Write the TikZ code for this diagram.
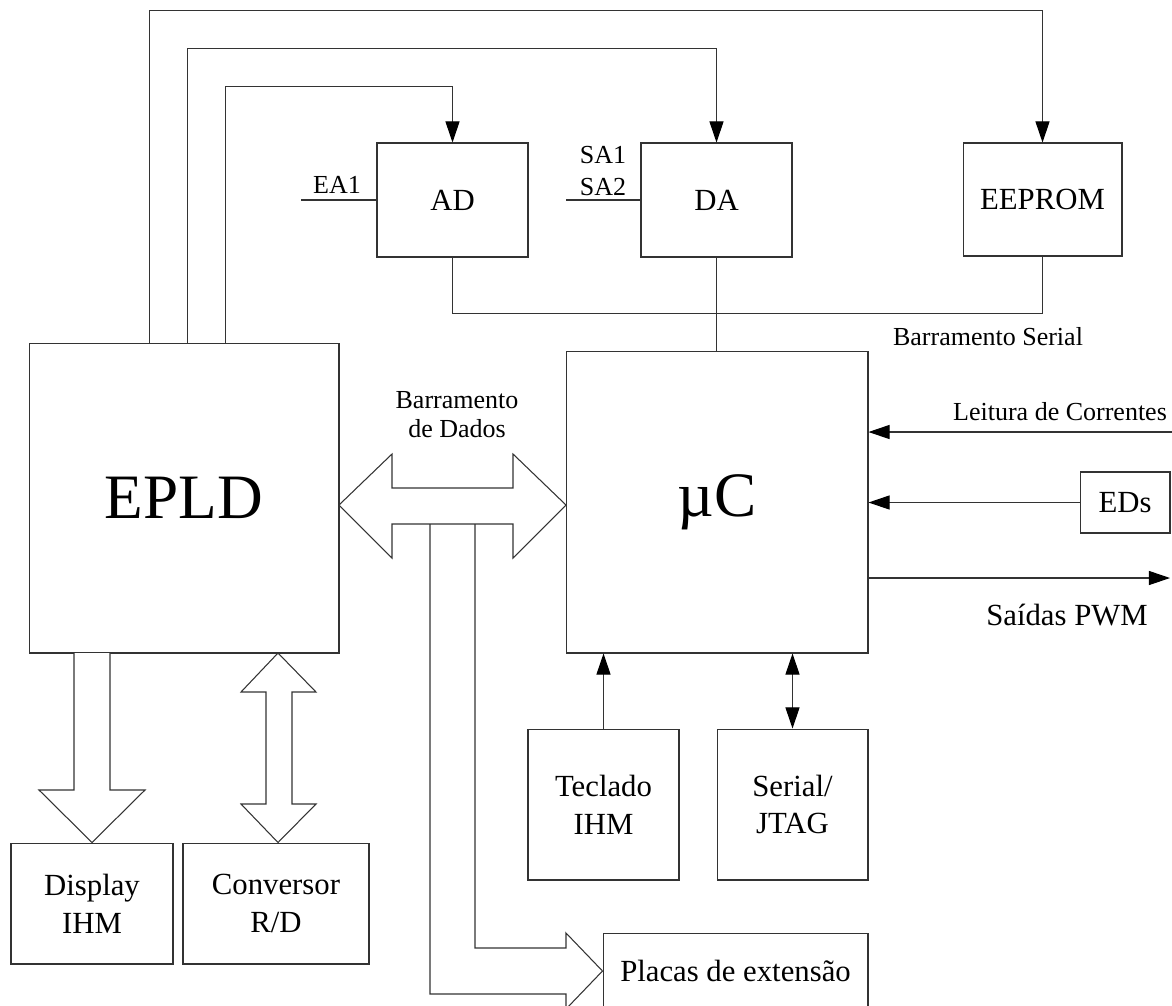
\documentclass[tikz,border=0pt]{standalone}
\usepackage{fontspec}
\setmainfont{Liberation Serif}
\usetikzlibrary{arrows.meta}
\begin{document}
\begin{tikzpicture}[x=0.02cm,y=-0.02cm,
  ln/.style={draw=black!80, line width=0.6pt},
  box/.style={ln, rectangle, inner sep=0pt, align=center, font=\fontsize{17.5}{21.5}\selectfont},
  big/.style={box, font=\fontsize{36}{40}\selectfont},
  lbl/.style={inner sep=0pt, font=\fontsize{14.8}{17.5}\selectfont},
  mlbl/.style={inner sep=0pt, font=\fontsize{17.5}{21.5}\selectfont},
  arr/.style={ln, -{Triangle[length=12pt,width=8pt,black]}},
  darr/.style={ln, {Triangle[length=12pt,width=8pt,black]}-{Triangle[length=12pt,width=8pt,black]}},
  barrow/.style={ln, fill=white, line join=miter}
]
\clip (0,0) rectangle (1172,1005);
\fill[white] (0,0) rectangle (1172,1005);

% boxes
\node[big, minimum width=6.2cm, minimum height=6.2cm] (epld) at (184,498) {EPLD};
\node[big, minimum width=6.04cm, minimum height=6.04cm] (uc) at (717,502) {µC};
\node[box, minimum width=3.02cm, minimum height=2.28cm] (ad) at (452.5,200) {AD};
\node[box, minimum width=3.02cm, minimum height=2.28cm] (da) at (716.5,200) {DA};
\node[box, minimum width=3.18cm, minimum height=2.26cm] (ee) at (1042.5,199.5) {EEPROM};
\node[box, minimum width=1.8cm, minimum height=1.22cm] (eds) at (1125,502.5) {EDs};
\node[box, minimum width=3.02cm, minimum height=3.02cm] (tec) at (603.5,804.5) {Teclado\\IHM};
\node[box, minimum width=3.02cm, minimum height=3.02cm] (ser) at (792.5,804.5) {Serial/\\JTAG};
\node[box, minimum width=3.24cm, minimum height=2.42cm] (disp) at (92,903.5) {Display\\IHM};
\node[box, minimum width=3.72cm, minimum height=2.42cm] (conv) at (276,903.5) {Conversor\\R/D};
\node[box, minimum width=5.3cm, minimum height=1.52cm] (pl) at (735.5,971) {Placas de extensão};

% EPLD to converters / memory
\coordinate (e1) at ([xshift=2.42cm]epld.north west);
\coordinate (e2) at ([xshift=3.18cm]epld.north west);
\coordinate (e3) at ([xshift=3.94cm]epld.north west);
\draw[arr] (e1) -- ++(0,-332) -| (ee.north);
\draw[arr] (e2) -- ++(0,-294) -| (da.north);
\draw[arr] (e3) -- ++(0,-256) -| (ad.north);

% serial bus
\draw[ln] (ad.south) -- ++(0,56) -| (ee.south);
\draw[ln] (da.south) -- (da.south |- uc.north);
\node[lbl, anchor=base] (bs) at (988,345) {Barramento Serial};

% analog in/out
\coordinate (ea) at (301,200);
\draw[ln] (ea) -- (ad.west);
\node[lbl, anchor=base] (ealbl) at (337,193) {EA1};
\coordinate (sa) at (566,200);
\draw[ln] (sa) -- (da.west);
\node[lbl, anchor=base] (sa1) at (603,163) {SA1};
\node[lbl, anchor=base] (sa2) at (603,195) {SA2};

% right side of uC
\coordinate (lc) at (1172,432);
\draw[arr] (lc) -- (lc -| uc.east);
\node[lbl, anchor=base] (lclbl) at (1060,420) {Leitura de Correntes};
\draw[arr] (eds.west) -- (eds.west -| uc.east);
\coordinate (pwm) at (1170,578);
\draw[arr] (pwm -| uc.east) -- (pwm);
\node[mlbl, anchor=base] (pwmlbl) at (1067,625) {Saídas PWM};

% below uC
\draw[arr] (tec.north) -- (tec.north |- uc.south);
\draw[darr] (ser.north) -- (ser.north |- uc.south);

% data bus block arrow
\draw[barrow] (339,505) -- (392,454) -- (392,488) -- (513,488) -- (513,454)
  -- (566,505) -- (513,558) -- (513,524) -- (392,524) -- (392,558) -- cycle;
\node[lbl, anchor=base] (bd1) at (457,408) {Barramento};
\node[lbl, anchor=base] (bd2) at (457,437) {de Dados};

% branch to expansion boards
\draw[ln, line join=miter] (430,524) |- (566,994) -- (566,1009) -- (pl.west) -- (566,933) -- (566,948) -| (475,524);

% EPLD to display (one-way block arrow)
\draw[barrow] (74,653) -- (74,790) -- (39,790) -- (disp.north) -- (145,790) -- (110,790) -- (110,653);

% EPLD to converter (two-way block arrow)
\draw[barrow] (278,653) -- (316,692) -- (292,692) -- (292,804) -- (316,804) -- (conv.north -| 278,0)
  -- (241,804) -- (266,804) -- (266,692) -- (241,692) -- cycle;
\end{tikzpicture}
\end{document}
